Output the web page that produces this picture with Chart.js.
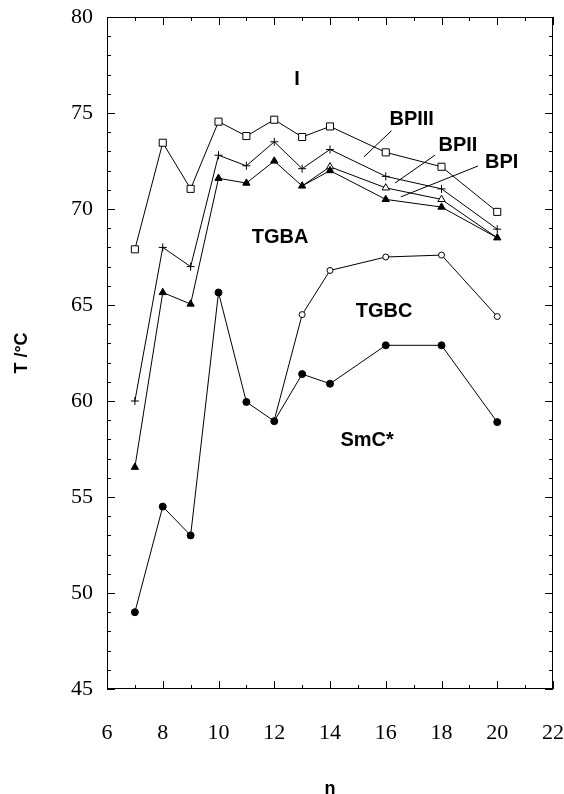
<!DOCTYPE html>
<html lang="en">
<head>
  <meta charset="UTF-8">
  <title>Transition temperatures vs n</title>
  <script src="https://cdn.jsdelivr.net/npm/chart.js"></script>
  <style>
    body {
      margin: 0;
      background: #fff;
    }
  </style>
</head>
<body>
  <canvas id="phaseChart" width="564" height="794"></canvas>

  <script>
    // chain length n
    const nAll = [7, 8, 9, 10, 11, 12, 13, 14, 16, 18, 20];
    // I -> BPIII (open squares)
    const tIso = [67.9, 73.45, 71.05, 74.55, 73.8, 74.65, 73.75, 74.3, 72.95, 72.2, 69.85];
    // BPIII -> BPII (crosses)
    const tBP3 = [60.0, 68.0, 67.0, 72.8, 72.25, 73.5, 72.1, 73.1, 71.7, 71.05, 68.95];
    // BPI -> TGBA (filled triangles)
    const tBP1 = [56.55, 65.65, 65.05, 71.6, 71.35, 72.5, 71.2, 72.0, 70.5, 70.1, 68.5];
    // BPII -> BPI (open triangles), branches off at n = 13 and joins again at n = 20
    const nBP2 = [13, 14, 16, 18, 20];
    const tBP2 = [71.2, 72.2, 71.1, 70.5, 68.5];
    // TGBA -> TGBC (open circles), branches off at n = 12
    const nTGBC = [12, 13, 14, 16, 18, 20];
    const tTGBC = [59.0, 64.5, 66.8, 67.5, 67.6, 64.4];
    // -> SmC* (filled circles)
    const tSmC = [49.0, 54.5, 53.0, 65.65, 59.95, 58.95, 61.4, 60.9, 62.9, 62.9, 58.9];

    const xTicks = [6, 8, 10, 12, 14, 16, 18, 20, 22];
    const yTicks = [45, 50, 55, 60, 65, 70, 75, 80];

    function pts(xs, ys) {
      return xs.map((x, i) => ({ x: x, y: ys[i] }));
    }

    function series(xs, ys, style, fill, radius) {
      return {
        data: pts(xs, ys),
        borderColor: '#000',
        borderWidth: 1,
        pointStyle: style,
        pointBackgroundColor: fill,
        pointBorderColor: '#000',
        pointBorderWidth: 1,
        pointRadius: radius,
        tension: 0
      };
    }

    // phase names and leader lines, placed in data units
    const phaseLabels = [
      { text: 'I', x: 12.82, y: 76.72 },
      { text: 'BPIII', x: 16.93, y: 74.64 },
      { text: 'BPII', x: 18.59, y: 73.33 },
      { text: 'BPI', x: 20.16, y: 72.4 },
      { text: 'TGBA', x: 12.21, y: 68.54 },
      { text: 'TGBC', x: 15.94, y: 64.64 },
      { text: 'SmC*', x: 15.33, y: 57.92 }
    ];
    const leaders = [
      [16.21, 74.08, 15.22, 72.72],
      [17.77, 72.81, 16.33, 71.35],
      [19.31, 72.24, 16.54, 70.63]
    ];

    const frameAndLabels = {
      id: 'frameAndLabels',
      afterDatasetsDraw(chart) {
        const { ctx, chartArea: a, scales: { x, y } } = chart;
        ctx.save();
        ctx.strokeStyle = '#000';
        ctx.lineWidth = 1;
        ctx.strokeRect(a.left + 0.5, a.top + 0.5, a.right - a.left - 1, a.bottom - a.top - 1);

        // inward ticks on all four sides
        ctx.beginPath();
        for (let v = x.min; v <= x.max; v++) {
          const px = Math.round(x.getPixelForValue(v)) + 0.5;
          const len = v % 2 === 0 ? 8 : 4;
          ctx.moveTo(px, a.bottom); ctx.lineTo(px, a.bottom - len);
          ctx.moveTo(px, a.top); ctx.lineTo(px, a.top + len);
        }
        for (let v = y.min; v <= y.max; v++) {
          const py = Math.round(y.getPixelForValue(v)) + 0.5;
          const len = v % 5 === 0 ? 8 : 4;
          ctx.moveTo(a.left, py); ctx.lineTo(a.left + len, py);
          ctx.moveTo(a.right, py); ctx.lineTo(a.right - len, py);
        }
        ctx.stroke();

        ctx.beginPath();
        leaders.forEach(l => {
          ctx.moveTo(x.getPixelForValue(l[0]), y.getPixelForValue(l[1]));
          ctx.lineTo(x.getPixelForValue(l[2]), y.getPixelForValue(l[3]));
        });
        ctx.stroke();

        ctx.fillStyle = '#000';
        ctx.font = 'bold 20px "Liberation Sans", Arial, sans-serif';
        ctx.textAlign = 'center';
        ctx.textBaseline = 'middle';
        phaseLabels.forEach(p => {
          ctx.fillText(p.text, x.getPixelForValue(p.x), y.getPixelForValue(p.y));
        });
        ctx.restore();
      }
    };

    new Chart(document.getElementById('phaseChart'), {
      type: 'line',
      data: {
        datasets: [
          series(nAll, tSmC, 'circle', '#000', 3.5),
          series(nAll, tBP1, 'triangle', '#000', 4.2),
          series(nBP2, tBP2, 'triangle', '#fff', [0, 4.2, 4.2, 4.2, 0]),
          series(nAll, tBP3, 'cross', '#fff', 4),
          series(nAll, tIso, 'rect', '#fff', 5),
          series(nTGBC, tTGBC, 'circle', '#fff', [0, 3, 3, 3, 3, 3])
        ]
      },
      options: {
        responsive: false,
        animation: false,
        layout: { padding: { top: 17, right: 11, left: 0, bottom: 0 } },
        plugins: {
          legend: { display: false },
          tooltip: { enabled: false }
        },
        scales: {
          x: {
            type: 'linear',
            min: 6,
            max: 22,
            afterFit: s => {
              s.height = 105;
              s.paddingLeft = 0;
              s.paddingRight = 0;
            },
            afterBuildTicks: s => { s.ticks = xTicks.map(v => ({ value: v })); },
            grid: { display: false, drawTicks: false },
            border: { display: false },
            ticks: {
              padding: 31,
              color: '#000',
              maxRotation: 0,
              font: { family: '"Liberation Serif", "Times New Roman", serif', size: 22 }
            },
            title: {
              display: true,
              text: 'n',
              color: '#000',
              padding: { top: 0, bottom: -4 },
              font: { family: '"Liberation Sans", Arial, sans-serif', size: 18, weight: 'bold', lineHeight: 1.0 }
            }
          },
          y: {
            min: 45,
            max: 80,
            afterFit: s => {
              s.width = 107;
              s.paddingTop = 0;
              s.paddingBottom = 0;
            },
            afterBuildTicks: s => { s.ticks = yTicks.map(v => ({ value: v })); },
            grid: { display: false, drawTicks: false },
            border: { display: false },
            ticks: {
              padding: 14,
              color: '#000',
              font: { family: '"Liberation Serif", "Times New Roman", serif', size: 22 }
            },
            title: {
              display: true,
              text: 'T /°C',
              color: '#000',
              padding: { top: 11, bottom: 0 },
              font: { family: '"Liberation Sans", Arial, sans-serif', size: 18, weight: 'bold' }
            }
          }
        }
      },
      plugins: [frameAndLabels]
    });
  </script>
</body>
</html>
